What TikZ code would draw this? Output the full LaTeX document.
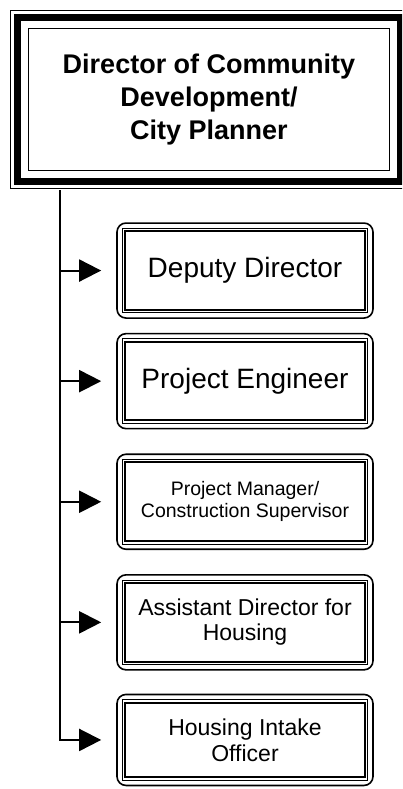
\documentclass[tikz,border=0pt]{standalone}
\usepackage{fontspec}
\setmainfont{Liberation Sans}
\usetikzlibrary{arrows.meta}
\usetikzlibrary{calc}
\usetikzlibrary{positioning}

\tikzset{
  headbox/.style={draw, line width=1.5pt, minimum width=361pt, minimum height=142pt,
    align=center, font=\bfseries\fontsize{27pt}{33pt}\selectfont},
  staffbox/.style={draw, rounded corners=9pt, line width=1.6pt, minimum width=256pt,
    minimum height=95pt, align=center},
  conn/.style={line width=2pt, -{Triangle[length=22pt,width=22pt]}, shorten >=15pt}
}

\begin{document}
\begin{tikzpicture}[x=1pt, y=-1pt]
      \useasboundingbox (0,0) rectangle (402,789);
      \clip (0,0) rectangle (402,789);
      % head of the department
      \node[headbox] (director) at (209,99.5) {Director of Community\\Development/\\City Planner};
      \draw[line width=7pt] ($(director.north west)+(-10pt,10pt)$) rectangle ($(director.south east)+(10pt,-10pt)$);
      \draw[line width=1.2pt] ($(director.north west)+(-17pt,17pt)$) rectangle ($(director.south east)+(17pt,-17pt)$);
      % staff
      \node[staffbox, below=51pt of director, xshift=36pt, font=\fontsize{28pt}{32pt}\selectfont] (deputy) {Deputy Director};
      \node[staffbox, below=14pt of deputy, font=\fontsize{28pt}{32pt}\selectfont] (engineer) {Project Engineer};
      \node[staffbox, below=24pt of engineer, font=\fontsize{19.5pt}{22pt}\selectfont] (manager) {Project Manager/\\Construction Supervisor};
      \node[staffbox, below=24pt of manager, font=\fontsize{23pt}{25pt}\selectfont] (assistant) {Assistant Director for\\Housing};
      \node[staffbox, below=23pt of assistant, minimum height=91pt, font=\fontsize{23pt}{26pt}\selectfont] (intake) {Housing Intake\\Officer};
      \foreach \n in {deputy,engineer,manager,assistant,intake} {
        \draw[line width=0.9pt] ($(\n.north west)+(6pt,-6pt)$) rectangle ($(\n.south east)+(-6pt,6pt)$);
        \draw[line width=2pt] ($(\n.north west)+(9pt,-9pt)$) rectangle ($(\n.south east)+(-9pt,9pt)$);
      }
      % reporting lines
      \coordinate (spine) at ($(director.south west)+(32pt,-19pt)$);
      \draw[conn] (spine) |- (intake.west);
      \draw[conn] (spine |- deputy.west) -- (deputy.west);
      \draw[conn] (spine |- engineer.west) -- (engineer.west);
      \draw[conn] (spine |- manager.west) -- (manager.west);
      \draw[conn] (spine |- assistant.west) -- (assistant.west);
\end{tikzpicture}
\end{document}
